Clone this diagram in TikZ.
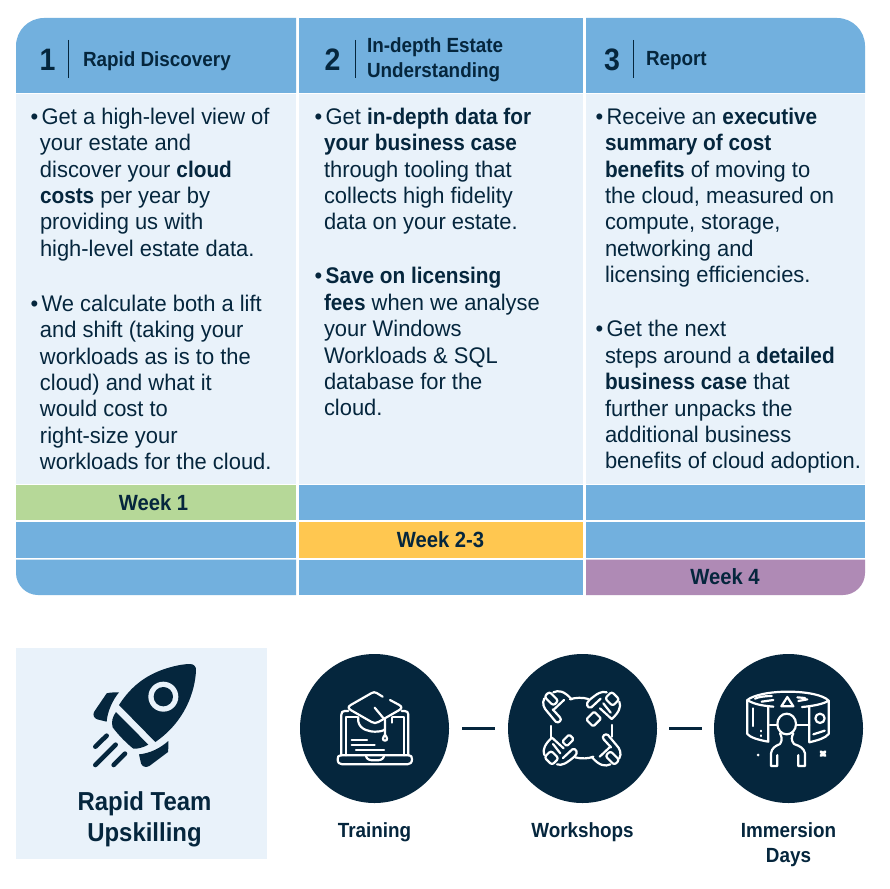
\documentclass[tikz,border=0pt]{standalone}
\usepackage{fontspec}
\setmainfont[FakeStretch=0.97,BoldFeatures={FakeStretch=0.92}]{Liberation Sans}
\usetikzlibrary{calc}
\definecolor{hdr}{HTML}{72B0DE}
\definecolor{pale}{HTML}{E9F2FA}
\definecolor{ink}{HTML}{05263D}
\definecolor{wgreen}{HTML}{B6D898}
\definecolor{wyellow}{HTML}{FFC750}
\definecolor{wpurple}{HTML}{AF8AB5}
\newcommand{\bodysize}{\fontsize{22.6}{26.4}\selectfont}
\newcommand{\hang}{\hspace*{-9.5pt}•\hspace{3.5pt}}
\tikzset{
  x=1pt,y=-1pt,
  txt/.style={text=ink,inner sep=0pt,outer sep=0pt},
  bodytxt/.style={txt,anchor=north west,align=left,font=\bodysize},
  numtxt/.style={txt,font=\fontsize{31}{31}\selectfont\bfseries,anchor=center},
  headtxt/.style={txt,font=\fontsize{20.5}{25}\selectfont\bfseries,anchor=west,align=left},
  wktxt/.style={txt,font=\fontsize{22}{24}\selectfont\bfseries,anchor=center},
  captxt/.style={txt,font=\fontsize{20.5}{25}\selectfont\bfseries,align=center,anchor=north},
  sepline/.style={ink,line width=1pt},
  circ/.style={circle,fill=ink,minimum size=149pt,inner sep=0pt,outer sep=0pt},
  dashlink/.style={ink,line width=2.6pt},
  ic/.style={white,line width=2.2pt,line cap=round,line join=round},
  rk/.style={fill=ink,draw=none},
}
\newcommand{\handA}{%
  \draw[ic,rounded corners=2.5pt] (178,155) -- (205,182) -- (190,197) -- (163,170) -- cycle;
  \draw[ic] (190,157) .. controls (205,150) and (222,152) .. (245,178);
  \draw[ic] (163,175) .. controls (155,190) and (162,205) .. (172,215) -- (197,245) .. controls (205,252) and (218,240) .. (210,232) -- (188,208);
  \draw[ic] (190,210) -- (222,180);
}
\newcommand{\handB}{%
  \draw[ic,rounded corners=2.5pt] (365,155) -- (388,178) -- (368,198) -- (345,175) -- cycle;
  \draw[ic] (350,157) .. controls (335,152) and (322,160) .. (298,180) .. controls (285,190) and (292,207) .. (304,202) -- (332,176);
  \draw[ic] (388,185) .. controls (395,200) and (385,220) .. (365,237) -- (330,205);
  \draw[ic] (340,190) -- (362,218);
}
\begin{document}
\begin{tikzpicture}
\useasboundingbox (0,0) rectangle (890,888);
\fill[white] (0,0) rectangle (890,888);
% headers
\fill[hdr] (296,93) -- (16,93) -- (16,46) .. controls (16,30.5) and (28.5,18) .. (44,18) -- (296,18) -- cycle;
\fill[hdr] (299,18) rectangle (583,93);
\fill[hdr] (586,93) -- (865,93) -- (865,46) .. controls (865,30.5) and (852.5,18) .. (837,18) -- (586,18) -- cycle;
% bodies
\fill[pale] (16,94) rectangle (296,484);
\fill[pale] (299,94) rectangle (583,484);
\fill[pale] (586,94) rectangle (865,484);
% week rows
\fill[wgreen] (16,485) rectangle (296,520);
\fill[hdr] (299,485) rectangle (583,520);
\fill[hdr] (586,485) rectangle (865,520);
\fill[hdr] (16,522) rectangle (296,557.5);
\fill[wyellow] (299,522) rectangle (583,557.5);
\fill[hdr] (586,522) rectangle (865,557.5);
\fill[hdr] (296,559.5) -- (16,559.5) -- (16,573) .. controls (16,585) and (26,595) .. (38,595) -- (296,595) -- cycle;
\fill[hdr] (299,559.5) rectangle (583,595);
\fill[wpurple] (586,559.5) -- (865,559.5) -- (865,573) .. controls (865,585) and (855,595) .. (843,595) -- (586,595) -- cycle;
% header text
\node[numtxt] (n1) at (47.5,60) {1};
\draw[sepline] (68,40) -- (68,78);
\node[headtxt] (h1) at (83,61) {Rapid Discovery};
\node[numtxt] (n2) at (332.5,60) {2};
\draw[sepline] (355,40) -- (355,78);
\node[headtxt] (h2) at (367,59.5) {In-depth Estate\\Understanding};
\node[numtxt] (n3) at (612,60) {3};
\draw[sepline] (633,40) -- (633,78);
\node[headtxt] (h3) at (646,61) {Report};
% body text
\node[bodytxt] (b1) at (40,108) {\hang Get a high-level view of\\your estate and\\discover your \textbf{cloud}\\\textbf{costs} per year by\\providing us with\\high-level estate data.};
\node[bodytxt] (b2) at (40,295) {\hang We calculate both a lift\\and shift (taking your\\workloads as is to the\\cloud) and what it\\would cost to\\right-size your\\workloads for the cloud.};
\node[bodytxt] (b3) at (324,108) {\hang Get \textbf{in-depth data for}\\\textbf{your business case}\\through tooling that\\collects high fidelity\\data on your estate.};
\node[bodytxt] (b4) at (324,267.5) {\hang\textbf{Save on licensing}\\\textbf{fees} when we analyse\\your Windows\\Workloads \& SQL\\database for the\\cloud.};
\node[bodytxt] (b5) at (605,108) {\hang Receive an \textbf{executive}\\\textbf{summary of cost}\\\textbf{benefits} of moving to\\the cloud, measured on\\compute, storage,\\networking and\\licensing efficiencies.};
\node[bodytxt] (b6) at (605,320.5) {\hang Get the next\\steps around a \textbf{detailed}\\\textbf{business case} that\\further unpacks the\\additional business\\benefits of cloud adoption.};
% weeks
\node[wktxt] (w1) at (153.5,502.5) {Week 1};
\node[wktxt] (w2) at (440.5,540) {Week 2-3};
\node[wktxt] (w3) at (725,577) {Week 4};
% bottom box
\node[fill=pale,minimum width=251pt,minimum height=211pt,inner sep=0pt,anchor=north west] (box) at (16,648) {};
\node[txt,font=\fontsize{26}{31}\selectfont\bfseries,align=center] (boxt) at (144.5,819.5) {Rapid Team\\Upskilling};
% rocket
\begin{scope}[shift={(70,650)},scale=1/3]
\fill[rk] (147,165) .. controls (185,105) and (235,70) .. (300,52) .. controls (325,45) and (345,42) .. (360,42) .. controls (372,42) and (379,50) .. (378,62) .. controls (375,125) and (345,215) .. (256,276) -- cycle;
\fill[pale] (280,140) circle[radius=45];
\fill[rk] (280,140) circle[radius=29];
\fill[rk] (138,186) -- (235,284) .. controls (220,292) and (205,297) .. (190,296) .. controls (170,280) and (145,255) .. (128,232) .. controls (123,215) and (128,200) .. (138,186) -- cycle;
\fill[rk] (147,127) .. controls (135,127) and (120,127) .. (110,130) -- (72,186) .. controls (68,195) and (72,205) .. (82,208) -- (110,215) .. controls (112,185) and (128,150) .. (147,127) -- cycle;
\fill[rk] (295,273) .. controls (295,285) and (296,295) .. (294,306) -- (238,348) .. controls (228,354) and (216,350) .. (213,340) -- (207,313) .. controls (240,310) and (270,295) .. (295,273) -- cycle;
\draw[ink,line width=4.6pt,line cap=round] (76,290) -- (110,257) (76,345) -- (137,284) (131,345) -- (165,311);
\end{scope}
% circles
\node[circ] (c1) at (374.5,728.5) {};
\node[circ] (c2) at (582.5,728.5) {};
\node[circ] (c3) at (788.5,728.5) {};
\draw[dashlink] ($(c1.east)+(13,0)$) -- ($(c2.west)+(-13,0)$);
\draw[dashlink] ($(c2.east)+(12,0)$) -- ($(c3.west)+(-12,0)$);
% icon 1
\begin{scope}[shift={(280,640)},scale=1/3]
\draw[ic] (205,213) -- (194,213) .. controls (187,213) and (184,217) .. (184,224) -- (184,346);
\draw[ic] (365,213) -- (374,213) .. controls (381,213) and (385,217) .. (385,224) -- (385,346);
\draw[ic] (198,346) -- (198,232) -- (232,232);
\draw[ic] (338,232) -- (371,232) -- (371,346);
\draw[ic] (182,346) -- (387,346) .. controls (394,346) and (396,350) .. (396,358) .. controls (396,368) and (390,373) .. (382,373) -- (187,373) .. controls (178,373) and (173,368) .. (173,358) .. controls (173,350) and (175,346) .. (182,346);
\draw[ic] (258,349) .. controls (262,360) and (270,361) .. (285,361) .. controls (300,361) and (308,360) .. (312,349);
\draw[ic] (308,170) -- (290,159) .. controls (285,156) and (280,156) .. (275,159) -- (212,195) .. controls (204,200) and (204,205) .. (212,210) -- (275,246) .. controls (282,250) and (288,250) .. (295,246) -- (358,210) .. controls (366,205) and (366,200) .. (358,195) -- (330,180);
\draw[ic] (235,232) -- (235,245) .. controls (240,270) and (270,275) .. (285,275) .. controls (300,275) and (312,272) .. (314,268);
\draw[ic] (335,232) -- (335,248);
\draw[ic] (284,203) -- (315,240) -- (315,282);
\draw[ic] (315,284) .. controls (308,292) and (306,302) .. (315,302) .. controls (324,302) and (322,292) .. (315,284) -- cycle;
\draw[ic] (215,301) -- (261,301) (215,316) -- (284,316) (228,331) -- (312,331);
\end{scope}
% icon 2
\begin{scope}[shift={(490,640)},scale=1/3]
\draw[ic] (240,178) .. controls (255,172) and (280,172) .. (295,177);
\draw[ic] (184,258) -- (184,295);
\draw[ic] (367,255) -- (367,290);
\draw[ic] (255,352) .. controls (275,357) and (295,356) .. (310,350);
\handA
\handB
\begin{scope}[rotate around={180:(275.5,265)}]\handA\handB\end{scope}
\draw[ic,rounded corners=1.5pt,rotate around={45:(311,237)}] (294,222) rectangle (328,252);
\draw[ic,rounded corners=1.5pt,rotate around={-45:(234,301)}] (224,286) rectangle (244,316);
\end{scope}
% icon 3
\begin{scope}[shift={(690,640)},scale=1/3]
\draw[ic] (172,180) .. controls (190,165) and (240,155) .. (293,155) .. controls (350,155) and (400,165) .. (416,182) .. controls (400,192) and (370,198) .. (336,201);
\draw[ic] (172,180) .. controls (190,192) and (215,197) .. (250,200);
\draw[ic] (172,180) -- (172,282) .. controls (180,292) and (205,300) .. (235,305) -- (235,200);
\draw[ic] (416,182) -- (416,282) .. controls (405,295) and (385,300) .. (358,307) -- (358,200);
\draw[ic] (195,176) .. controls (205,170) and (230,168) .. (245,168) (215,185) -- (250,180);
\draw[ic] (322,172) -- (345,174) (325,183) -- (352,178);
\draw[ic] (292,171) -- (274,199) -- (310,199) -- cycle;
\draw[ic] (190,205) -- (190,258);
\draw[ic] (213,272) -- (213,274) (213,286) -- (213,288);
\draw[ic] (240,254) -- (262,254) (320,254) -- (358,254);
\draw[ic] (390,235) circle[radius=14];
\draw[ic] (370,283) -- (404,272);
\draw[ic] (290,252) ellipse[x radius=28,y radius=31];
\draw[ic] (270,280) .. controls (275,290) and (278,300) .. (270,312) .. controls (255,318) and (245,325) .. (243,340) -- (243,378) -- (262,378) -- (262,345);
\draw[ic] (310,280) .. controls (305,290) and (302,300) .. (312,312) .. controls (330,318) and (342,325) .. (345,340) -- (345,378) -- (325,378) -- (325,345);
\fill[white] (204,345) circle[radius=4.5];
\draw[ic,line width=3pt] (393,335) -- (405,347) (405,335) -- (393,347);
\end{scope}
% captions
\node[captxt] (t1) at (374.5,822.5) {Training};
\node[captxt] (t2) at (582.5,822.5) {Workshops};
\node[captxt] (t3) at (788.5,822.5) {Immersion\\Days};
\end{tikzpicture}
\end{document}
